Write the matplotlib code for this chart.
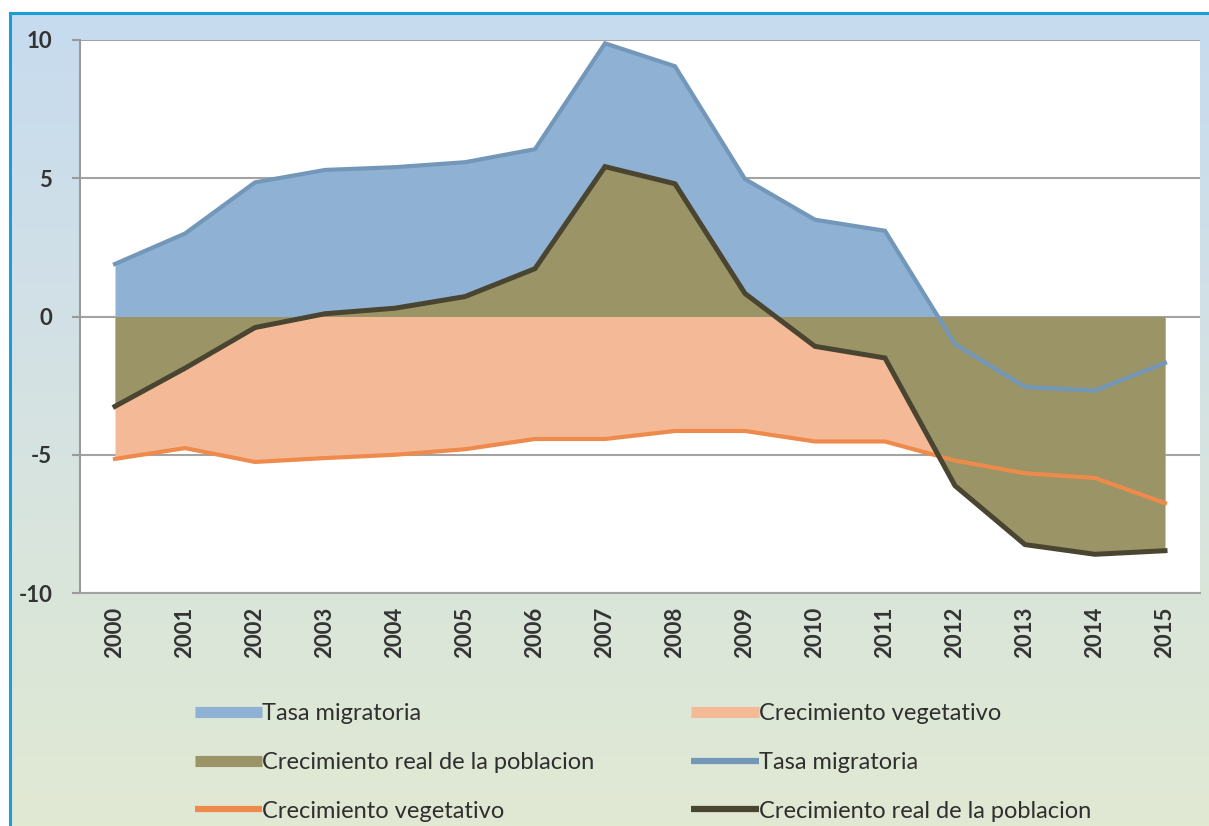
import matplotlib
matplotlib.use("Agg")
import matplotlib.pyplot as plt
import numpy as np
from matplotlib.lines import Line2D
from matplotlib.colors import LinearSegmentedColormap

years = [2000, 2001, 2002, 2003, 2004, 2005, 2006, 2007,
         2008, 2009, 2010, 2011, 2012, 2013, 2014, 2015]
tasa_migratoria = [1.9, 3.0, 4.85, 5.3, 5.4, 5.58, 6.05, 9.88,
                   9.05, 4.97, 3.5, 3.1, -1.0, -2.55, -2.68, -1.68]
crec_vegetativo = [-5.15, -4.76, -5.26, -5.12, -5.0, -4.8, -4.43, -4.43,
                   -4.14, -4.14, -4.52, -4.52, -5.21, -5.67, -5.84, -6.75]
crec_real = [-3.25, -1.87, -0.4, 0.1, 0.3, 0.72, 1.73, 5.42,
             4.8, 0.83, -1.08, -1.5, -6.12, -8.25, -8.6, -8.47]
y_ticks = [-10, -5, 0, 5, 10]
y_ticklabels = ["-10", "-5", "0", "5", "10"]
legend_labels = ["Tasa migratoria", "Crecimiento real de la poblacion",
                 "Crecimiento vegetativo", "Crecimiento vegetativo",
                 "Tasa migratoria", "Crecimiento real de la poblacion"]

FONT = ["Lato", "DejaVu Sans"]
plt.rcParams['font.family'] = FONT

W, H = 1209, 826
fig = plt.figure(figsize=(W / 100, H / 100), dpi=100)
fig.patch.set_facecolor("white")

# background panel with gradient
bg = fig.add_axes([10 / W, 0, 1 - 10 / W, 1 - 13 / H], zorder=-5)
cmap = LinearSegmentedColormap.from_list(
    "bg", ["#c6dbef", "#d1e0e7", "#d9e5dc", "#e1e9d3"])
grad = np.linspace(0, 1, 256).reshape(-1, 1)
bg.imshow(grad, aspect="auto", cmap=cmap, extent=[0, 1, 0, 1], origin="upper")
bg.set_xlim(0, 1)
bg.set_ylim(0, 1)
bg.axis("off")
# blue border (top and left)
fig.add_artist(Line2D([10 / W, 1], [1 - 13 / H, 1 - 13 / H], color="#1b9ed6",
                      lw=2.2, transform=fig.transFigure))
fig.add_artist(Line2D([10 / W, 10 / W], [0, 1 - 13 / H], color="#1b9ed6",
                      lw=2.2, transform=fig.transFigure))

ax = fig.add_axes([80 / W, (H - 593) / H, (1200 - 80) / W, (593 - 40) / H])
ax.set_facecolor("white")

c_blue_fill = "#8fb1d4"
c_salmon_fill = "#f4ba97"
c_olive_fill = "#9b9467"
c_blue_line = "#7397b9"
c_orange_line = "#ee8b4c"
c_dark_line = "#4a4531"

ax.fill_between(years, 0, tasa_migratoria, color=c_blue_fill, lw=0, zorder=2)
ax.fill_between(years, 0, crec_vegetativo, color=c_salmon_fill, lw=0, zorder=3)
ax.fill_between(years, 0, crec_real, color=c_olive_fill, lw=0, zorder=4)
ax.plot(years, tasa_migratoria, color=c_blue_line, lw=3.0, zorder=6,
        solid_joinstyle="miter")
ax.plot(years, crec_vegetativo, color=c_orange_line, lw=3.0, zorder=7)
ax.plot(years, crec_real, color=c_dark_line, lw=3.6, zorder=8,
        solid_joinstyle="miter")

ax.set_xlim(1999.5, 2015.5)
ax.set_ylim(-10, 10)
ax.set_yticks(y_ticks)
ax.set_yticklabels(y_ticklabels)
ax.set_xticks(years)
ax.set_xticklabels([str(y) for y in years], rotation=90)
ax.grid(axis="y", color="#a3a3a3", lw=1.5, zorder=1)
ax.set_axisbelow(True)
for s in ["top", "right"]:
    ax.spines[s].set_visible(False)
ax.spines["left"].set_color("#9a9a9a")
ax.spines["left"].set_linewidth(1.5)
ax.spines["bottom"].set_color("#a3a3a3")
ax.spines["bottom"].set_linewidth(1.5)
ax.tick_params(axis="y", length=6, width=1.5, color="#9a9a9a", pad=14,
               labelsize=16, labelcolor="#333333")
ax.tick_params(axis="x", length=0, pad=10, labelsize=16, labelcolor="#333333")
for lab in ax.get_yticklabels() + ax.get_xticklabels():
    lab.set_fontweight("bold")

handles = [
    Line2D([], [], color=c_blue_fill, lw=8, solid_capstyle="butt"),
    Line2D([], [], color=c_olive_fill, lw=8, solid_capstyle="butt"),
    Line2D([], [], color=c_orange_line, lw=4.5, solid_capstyle="butt"),
    Line2D([], [], color=c_salmon_fill, lw=8, solid_capstyle="butt"),
    Line2D([], [], color=c_blue_line, lw=4.5, solid_capstyle="butt"),
    Line2D([], [], color=c_dark_line, lw=4.5, solid_capstyle="butt"),
]
leg = fig.legend(handles, legend_labels, ncol=2, frameon=False,
                 loc="upper left", bbox_to_anchor=(195 / W, 1 - 703 / H),
                 fontsize=17, handlelength=2.85, handletextpad=0.0,
                 columnspacing=4.1, labelspacing=1.18, borderpad=0,
                 borderaxespad=0)
for t in leg.get_texts():
    t.set_color("#2f2f2f")

fig.savefig("out.png", dpi=100)
